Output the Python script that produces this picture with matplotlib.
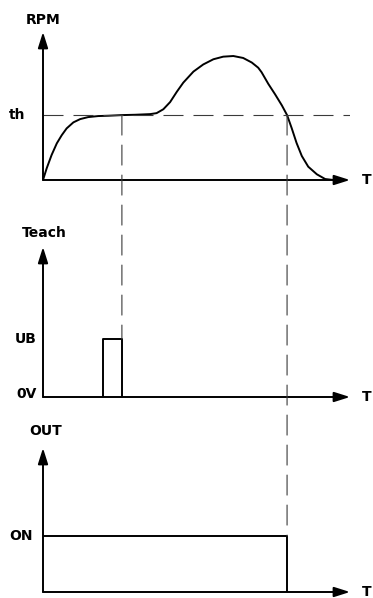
import matplotlib

matplotlib.use("Agg")
import matplotlib.pyplot as plt
from matplotlib.patches import ConnectionPatch


# time axis runs 0..100, RPM / signal levels are relative (threshold / high = 1)
T_END = 100
TH = 1.0
T_TEACH_START = 19.5
T_TEACH_END = 25.7
T_SWITCH_OFF = 79.5

rpm_t = [0, 1.2, 2.8, 4.5, 6.1, 7.7, 9.9, 12.1, 14.7, 18.0, 21.3, 25.7, 30.0, 34.9,
         37.0, 39.2, 41.4, 43.6, 45.7, 49.0, 52.2, 55.5, 58.7, 62.0, 65.2, 68.0,
         70.1, 71.2, 73.4, 75.6, 77.8, 79.5, 81.0, 82.6, 84.3, 86.4, 89.2, 91.9, 94.6]
rpm_v = [0, 0.18, 0.385, 0.565, 0.69, 0.795, 0.888, 0.938, 0.969, 0.985, 0.99, 1.0, 1.005, 1.015,
         1.03, 1.09, 1.20, 1.36, 1.50, 1.67, 1.78, 1.86, 1.90, 1.91, 1.88, 1.81,
         1.73, 1.66, 1.48, 1.32, 1.15, 1.0, 0.80, 0.57, 0.37, 0.205, 0.088, 0.015, 0.0]

teach_t = [T_TEACH_START, T_TEACH_START, T_TEACH_END, T_TEACH_END]
teach_v = [0, 1, 1, 0]

out_t = [0, T_SWITCH_OFF, T_SWITCH_OFF]
out_v = [1, 1, 0]

LW = 1.4
DASH = dict(color="#3a3a3a", lw=0.8, linestyle=(0, (18, 9)))
FONT = dict(fontsize=10, fontweight="bold", ha="center", va="center")


def arrow(ax, start, end):
    ax.annotate("", xy=end, xytext=start,
                arrowprops=dict(arrowstyle="-|>,head_length=0.95,head_width=0.3",
                                mutation_scale=10, lw=LW, color="black",
                                shrinkA=0, shrinkB=0))


def panel(fig, bottom, top, ymax):
    ax = fig.add_axes([43 / 373, bottom, 307 / 373, top - bottom])
    ax.set_xlim(0, T_END)
    ax.set_ylim(0, ymax)
    ax.axis("off")
    arrow(ax, (0, 0), (T_END, 0))
    arrow(ax, (0, 0), (0, ymax))
    ax.text(T_END + 5.5, 0, "T", **FONT)
    return ax


fig = plt.figure(figsize=(3.73, 5.98), dpi=100)

ax_rpm = panel(fig, 1 - 180 / 598, 1 - 32 / 598, 2.28)
ax_rpm.plot(rpm_t, rpm_v, color="black", lw=LW, solid_joinstyle="round",
            solid_capstyle="round")
ax_rpm.plot([0, T_END], [TH, TH], **DASH)
ax_rpm.text(0, 2.46, "RPM", **FONT)
ax_rpm.text(-8.5, TH, "th", **FONT)

ax_teach = panel(fig, 1 - 397 / 598, 1 - 247 / 598, 2.59)
ax_teach.plot(teach_t, teach_v, color="black", lw=LW)
ax_teach.text(0.5, 2.83, "Teach", **FONT)
ax_teach.text(-5.5, 1.0, "UB", **FONT)
ax_teach.text(-5.5, 0.05, "0V", **FONT)

ax_out = panel(fig, 1 - 592 / 598, 1 - 448 / 598, 2.57)
ax_out.plot(out_t, out_v, color="black", lw=LW)
ax_out.text(1.0, 2.87, "OUT", **FONT)
ax_out.text(-7.2, 1.0, "ON", **FONT)

# vertical guides: teach moment and switch-off moment
for t, ax_to in [(T_TEACH_END, ax_teach), (T_SWITCH_OFF, ax_out)]:
    con = ConnectionPatch(xyA=(t, TH), coordsA=ax_rpm.transData,
                          xyB=(t, 1.0), coordsB=ax_to.transData, **DASH)
    fig.add_artist(con)

fig.savefig("out.png", dpi=100)
